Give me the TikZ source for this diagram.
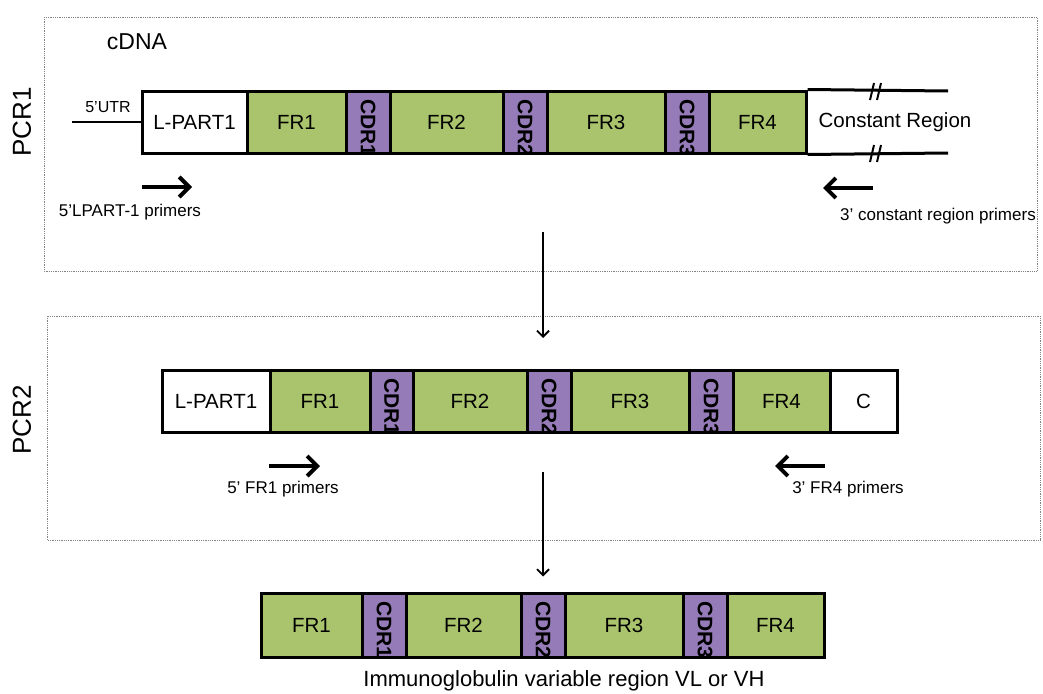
\documentclass[tikz,border=0pt]{standalone}
\usepackage{fontspec}
\setmainfont{Liberation Sans}
\usetikzlibrary{arrows.meta}
\definecolor{frgreen}{RGB}{169,196,108}
\definecolor{cdrpurple}{RGB}{149,123,184}
\definecolor{framegrey}{RGB}{130,130,130}

\begin{document}
\begin{tikzpicture}[x=1pt, y=-1pt]

  % Styles
  \tikzstyle{seg} = [draw=black, line width=3pt, inner sep=0pt, minimum height=62pt, font=\fontsize{20.5}{24}\selectfont]
  \tikzstyle{fr} = [seg, fill=frgreen]
  \tikzstyle{lead} = [seg, fill=white]
  \tikzstyle{frame} = [draw=framegrey, densely dotted, line width=0.8pt]
  \tikzstyle{primer} = [-{Straight Barb[length=10pt,width=20pt]}, line width=4pt]
  \tikzstyle{flow} = [-{Straight Barb[length=6pt,width=12pt]}, line width=1.8pt]
  \tikzstyle{label} = [inner sep=0pt, font=\fontsize{17}{20}\selectfont]
  \tikzset{cdr/.style={seg, fill=cdrpurple, minimum width=44pt,
    path picture={\node[rotate=-90, anchor=west, inner sep=0pt, draw=none, fill=none,
      minimum width=0pt, minimum height=0pt, font=\bfseries\fontsize{21}{24}\selectfont]
      at ([yshift=-7pt]path picture bounding box.north) {#1};}}}

  \useasboundingbox (0,0) rectangle (1043,693);

  % Cadres
  \draw[frame] (44,17) rectangle (1037,271);
  \draw[frame] (47,316) rectangle (1040,540);

  \node[rotate=90, font=\fontsize{26}{30}\selectfont] (pcr1) at (22,122) {PCR1};
  \node[rotate=90, font=\fontsize{26}{30}\selectfont] (pcr2) at (22,420) {PCR2};
  \node[font=\fontsize{23}{27}\selectfont] (cdna) at (137,42) {cDNA};

  % PCR1 : cDNA
  \node[lead, minimum width=105pt] (r1lp) at (194.5,122) {L-PART1};
  \node[fr, minimum width=99pt] (r1fr1) at (296.5,122) {FR1};
  \node[cdr=CDR1] (r1cdr1) at (368,122) {};
  \node[fr, minimum width=113pt] (r1fr2) at (446.5,122) {FR2};
  \node[cdr=CDR2] (r1cdr2) at (525,122) {};
  \node[fr, minimum width=118pt] (r1fr3) at (606,122) {FR3};
  \node[cdr=CDR3] (r1cdr3) at (687,122) {};
  \node[fr, minimum width=97pt] (r1fr4) at (757.5,122) {FR4};
  \node[font=\fontsize{20.5}{24}\selectfont] (r1const) at (895,122) {Constant Region};

  \coordinate (r1endtop) at (948,91);
  \coordinate (r1endbot) at (948,153);
  \draw[line width=3pt] (r1fr4.north east) -- (r1endtop);
  \draw[line width=3pt] (r1fr4.south east) -- (r1endbot);
  % coupures
  \draw[line width=2pt] (870,100) -- (874,83) (877,100) -- (881,83);
  \draw[line width=2pt] (870,162) -- (874,145) (877,162) -- (881,145);

  \coordinate (utr) at (72,122);
  \draw[line width=2.5pt] (utr) -- (r1lp.west);
  \node[label, font=\fontsize{16}{19}\selectfont] (utrlabel) at (108,107) {5'UTR};

  \coordinate (p1a) at (142,187);
  \coordinate (p1b) at (192,187);
  \draw[primer] (p1a) -- (p1b);
  \node[label] (p1label) at (130,212) {5'LPART-1 primers};
  \coordinate (p2a) at (873,188);
  \coordinate (p2b) at (823,188);
  \draw[primer] (p2a) -- (p2b);
  \node[label] (p2label) at (938,216) {3' constant region primers};

  % PCR2
  \node[lead, minimum width=108pt] (r2lp) at (216,401) {L-PART1};
  \node[fr, minimum width=100pt] (r2fr1) at (320,401) {FR1};
  \node[cdr=CDR1, minimum width=43pt] (r2cdr1) at (391.5,401) {};
  \node[fr, minimum width=114pt] (r2fr2) at (470,401) {FR2};
  \node[cdr=CDR2] (r2cdr2) at (549,401) {};
  \node[fr, minimum width=118pt] (r2fr3) at (630,401) {FR3};
  \node[cdr=CDR3] (r2cdr3) at (711,401) {};
  \node[fr, minimum width=97pt] (r2fr4) at (781.5,401) {FR4};
  \node[lead, minimum width=67pt] (r2c) at (863.5,401) {C};

  \coordinate (p3a) at (269,466);
  \coordinate (p3b) at (320,466);
  \draw[primer] (p3a) -- (p3b);
  \node[label] (p3label) at (283,489) {5' FR1 primers};
  \coordinate (p4a) at (825,466);
  \coordinate (p4b) at (775,466);
  \draw[primer] (p4a) -- (p4b);
  \node[label] (p4label) at (848,489) {3' FR4 primers};

  % Region variable
  \node[fr, minimum width=101pt, minimum height=64pt] (r3fr1) at (311.5,625) {FR1};
  \node[cdr=CDR1, minimum height=64pt] (r3cdr1) at (384,625) {};
  \node[fr, minimum width=115pt, minimum height=64pt] (r3fr2) at (463.5,625) {FR2};
  \node[cdr=CDR2, minimum height=64pt] (r3cdr2) at (543,625) {};
  \node[fr, minimum width=118pt, minimum height=64pt] (r3fr3) at (624,625) {FR3};
  \node[cdr=CDR3, minimum height=64pt] (r3cdr3) at (705,625) {};
  \node[fr, minimum width=97pt, minimum height=64pt] (r3fr4) at (775.5,625) {FR4};
  \node[font=\fontsize{22}{26}\selectfont] (vregion) at (564,681) {Immunoglobulin variable region VL or VH};

  % Fleches
  \coordinate (f1a) at (543,232);
  \coordinate (f1b) at (543,338);
  \draw[flow] (f1a) -- (f1b);
  \coordinate (f2a) at (543,472);
  \draw[flow] (f2a) -- ([yshift=15pt]r3cdr2.north);

\end{tikzpicture}
\end{document}
